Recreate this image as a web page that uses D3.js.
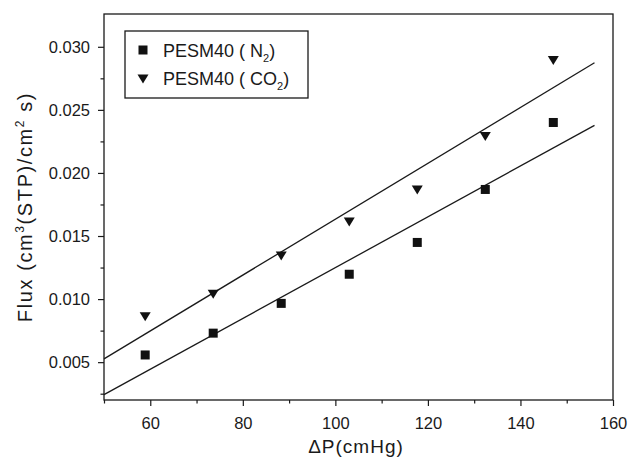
<!DOCTYPE html>
<html>
<head>
<meta charset="utf-8">
<script src="https://cdn.jsdelivr.net/npm/d3@7"></script>
<style>
  body { margin: 0; background: #fff; }
  text { font-family: "Liberation Sans", Arial, sans-serif; fill: #1a1a1a; }
</style>
</head>
<body>
<div id="chart"></div>
<script>
// values
var pressure = [58.9, 73.6, 88.3, 103, 117.7, 132.4, 147.1];
var fluxN2 = [0.00557, 0.0073, 0.00966, 0.01197, 0.01449, 0.01869, 0.0240];
var fluxCO2 = [0.0086, 0.01039, 0.01342, 0.01612, 0.01864, 0.02289, 0.02891];
var xTicks = [60, 80, 100, 120, 140, 160];
var xMinor = [50, 70, 90, 110, 130, 150];
var yTicks = [0.005, 0.010, 0.015, 0.020, 0.025, 0.030];
var yMinor = [0.0025, 0.0075, 0.0125, 0.0175, 0.0225, 0.0275];
var fitRange = [50, 156];

var W = 630, H = 461;
var pLeft = 104, pRight = 613, pTop = 14, pBottom = 400;

var svg = d3.select("#chart").append("svg").attr("width", W).attr("height", H);

var x = d3.scaleLinear().domain([50, 160]).range([pLeft, pRight]);
var y = d3.scaleLinear().domain([0.002, 0.0326]).range([pBottom, pTop]);

// frame
svg.append("rect").attr("x", pLeft).attr("y", pTop).attr("width", pRight - pLeft).attr("height", pBottom - pTop)
  .attr("fill", "none").attr("stroke", "#1a1a1a").attr("stroke-width", 1.3);

// axes
svg.append("g").attr("transform", "translate(0," + pBottom + ")")
  .call(d3.axisBottom(x).tickValues(xTicks).tickSize(6).tickSizeOuter(0).tickPadding(11).tickFormat(d3.format("d")));
svg.append("g").attr("transform", "translate(0," + pBottom + ")")
  .call(d3.axisBottom(x).tickValues(xMinor).tickSize(3.5).tickSizeOuter(0).tickFormat(""));
svg.append("g").attr("transform", "translate(" + pLeft + ",0)")
  .call(d3.axisLeft(y).tickValues(yTicks).tickSize(6).tickSizeOuter(0).tickPadding(8).tickFormat(d3.format(".3f")));
svg.append("g").attr("transform", "translate(" + pLeft + ",0)")
  .call(d3.axisLeft(y).tickValues(yMinor).tickSize(3.5).tickSizeOuter(0).tickFormat(""));

svg.selectAll(".domain").remove();
svg.selectAll(".tick line").attr("stroke", "#1a1a1a").attr("stroke-width", 1.2);
svg.selectAll(".tick text").style("font-size", "16.5px").attr("fill", "#1a1a1a");

// axis titles
svg.append("text").attr("x", 356).attr("y", 453).attr("text-anchor", "middle")
  .style("font-size", "19px").style("letter-spacing", "1px").text("\u0394P(cmHg)");

var yl = svg.append("text").attr("transform", "translate(32," + ((pTop + pBottom) / 2) + ") rotate(-90)")
  .attr("text-anchor", "middle").style("font-size", "20px").style("letter-spacing", "1.6px");
yl.append("tspan").text("Flux (cm");
yl.append("tspan").attr("dy", -8).style("font-size", "12px").text("3");
yl.append("tspan").attr("dy", 8).text("(STP)/cm");
yl.append("tspan").attr("dy", -8).style("font-size", "12px").text("2");
yl.append("tspan").attr("dy", 8).text(" s)");

// linear fits
function fit(xs, ys) {
  var mx = d3.mean(xs), my = d3.mean(ys);
  var sxy = d3.sum(xs, function (d, i) { return (d - mx) * (ys[i] - my); });
  var sxx = d3.sum(xs, function (d) { return (d - mx) * (d - mx); });
  var b = sxy / sxx;
  return function (v) { return my + b * (v - mx); };
}
var line = d3.line().x(function (d) { return x(d[0]); }).y(function (d) { return y(d[1]); });
[fluxN2, fluxCO2].forEach(function (ys) {
  var f = fit(pressure, ys);
  svg.append("path").attr("d", line(fitRange.map(function (v) { return [v, f(v)]; })))
    .attr("fill", "none").attr("stroke", "#1a1a1a").attr("stroke-width", 1.3);
});

// markers (downward triangle a bit flatter than d3's)
var tri = "M-5.5,-4.5L5.5,-4.5L0,4.5Z";
svg.selectAll(".sq").data(pressure).join("rect").attr("class", "sq")
  .attr("x", function (d) { return x(d) - 4.5; })
  .attr("y", function (d, i) { return y(fluxN2[i]) - 4.5; })
  .attr("width", 9).attr("height", 9).attr("fill", "#111");
svg.selectAll(".tri").data(pressure).join("path").attr("class", "tri")
  .attr("d", tri)
  .attr("transform", function (d, i) { return "translate(" + x(d) + "," + y(fluxCO2[i]) + ")"; })
  .attr("fill", "#111");

// legend
var lg = svg.append("g");
lg.append("rect").attr("x", 125).attr("y", 31).attr("width", 183).attr("height", 67)
  .attr("fill", "#fff").attr("stroke", "#1a1a1a").attr("stroke-width", 1.3);
lg.append("rect").attr("x", 138.5).attr("y", 45.5).attr("width", 9).attr("height", 9).attr("fill", "#111");
lg.append("path").attr("d", tri).attr("transform", "translate(143,79)").attr("fill", "#111");

var t1 = lg.append("text").attr("x", 163).attr("y", 57).style("font-size", "18px");
t1.append("tspan").text("PESM40 ( N");
t1.append("tspan").attr("dy", 5).style("font-size", "11px").text("2");
t1.append("tspan").attr("dy", -5).text(")");
var t2 = lg.append("text").attr("x", 163).attr("y", 85).style("font-size", "18px");
t2.append("tspan").text("PESM40 ( CO");
t2.append("tspan").attr("dy", 5).style("font-size", "11px").text("2");
t2.append("tspan").attr("dy", -5).text(")");
</script>
</body>
</html>
